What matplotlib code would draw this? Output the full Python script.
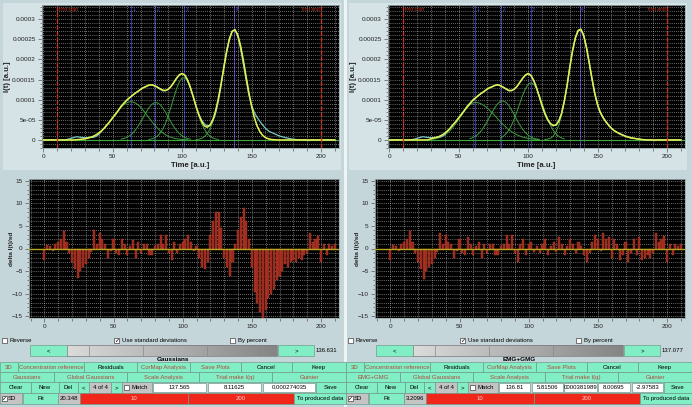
import numpy as np
import matplotlib
matplotlib.use('Agg')
import matplotlib.pyplot as plt
from matplotlib.patches import Rectangle
from matplotlib.ticker import MultipleLocator, FixedLocator

plt.rcParams['font.family'] = ['Liberation Sans', 'DejaVu Sans']

# ---------------- data (intensity in 1e-6 a.u., time step 2) ----------------
T_STEP = 2
data_I = [0.5, -0.5, 0.3, 0.8, -0.6, 0.2, -0.8, -0.3, 0.6, 2.0, 4.0, 6.0, 8.0, 7.0, 6.0, 5.5,
          6.0, 7.0, 6.5, 9.0, 14.0, 22.0, 30.0, 39.0, 46.0, 56.0, 63.0, 73.0, 84.0, 91.0, 99.0,
          104.0, 110.0, 116.0, 120.0, 125.0, 130.0, 132.0, 136.0, 137.0, 134.0, 131.0, 126.0,
          122.0, 122.0, 126.0, 133.0, 143.0, 153.0, 161.0, 165.0, 160.0, 147.0, 129.0, 107.0,
          84.0, 64.0, 49.0, 40.0, 35.0, 37.0, 47.0, 65.0, 95.0, 134.0, 182.0, 222.0, 252.0,
          270.0, 274.0, 258.0, 228.0, 190.0, 150.0, 113.0, 86.0, 68.0, 56.0, 46.0, 37.0, 29.0,
          23.0, 19.0, 16.0, 13.0, 10.0, 8.0, 6.0, 4.5, 3.0, 2.0, 1.0, 0.3, -0.5, 0.5, -1.0,
          -1.5, 0.2, -0.5, -1.0, 0.8, -0.2, 0.5, -0.3, 0.2, 0.0]

# Left panel: Gaussians
gauss_fit = [0]*12 + [0.7, 1.2, 1.9, 2.9, 4.4, 6.4, 9.2, 12.8, 17.4, 23.1, 29.9, 37.6, 46.2,
             55.3, 64.4, 73.3, 83.2, 91.2, 98.3, 104.7, 110.3, 115.4, 120.5, 125.3, 129.7,
             133.1, 136.2, 136.7, 135.0, 131.5, 127.3, 123.8, 122.9, 125.8, 132.8, 142.9,
             153.6, 162.0, 165.0, 160.6, 148.4, 129.5, 106.7, 83.2, 62.2, 45.5, 34.9, 31.5,
             36.0, 49.2, 71.2, 101.6, 138.7, 178.7, 217.8, 249.7, 269.4, 273.5, 261.3, 234.9,
             198.9, 158.3, 118.6, 83.7, 55.5, 34.7, 20.4, 11.3, 5.9, 2.9, 1.3, 0.6] + [0]*22
gauss_c1_start, gauss_c1 = 24, [0.7, 1.2, 1.9, 2.9, 4.4, 6.4, 9.2, 12.8, 17.4, 23.1, 29.9, 37.6,
                                46.2, 55.3, 64.4, 73.3, 81.2, 87.7, 92.2, 94.7, 94.7, 92.2, 87.7,
                                81.2, 73.3, 64.4, 55.3, 46.2, 37.6, 29.9, 23.1, 17.4, 12.8, 9.2,
                                6.4, 4.4, 2.9, 1.9, 1.2, 0.7, 0.4]
gauss_c2_start, gauss_c2 = 56, [2.0, 3.5, 6.1, 10.0, 15.6, 23.2, 32.8, 44.1, 56.4, 68.7, 79.7,
                                88.0, 92.4, 92.4, 88.0, 79.7, 68.7, 56.4, 44.1, 32.8, 23.2, 15.6,
                                10.0, 6.1, 3.5, 2.0]
gauss_c3_start, gauss_c3 = 76, [1.2, 2.5, 5.0, 9.2, 16.2, 26.7, 41.4, 60.2, 82.3, 105.7, 127.5,
                                144.5, 153.8, 153.8, 144.5, 127.5, 105.7, 82.3, 60.2, 41.4, 26.7,
                                16.2, 9.2, 5.0, 2.5, 1.2]
gauss_c4_start, gauss_c4 = 110, [0.9, 2.0, 4.1, 8.2, 15.3, 26.8, 44.2, 68.7, 100.4, 138.1, 178.7,
                                 217.8, 249.7, 269.4, 273.5, 261.3, 234.9, 198.9, 158.3, 118.6,
                                 83.7, 55.5, 34.7, 20.4, 11.3, 5.9, 2.9, 1.3, 0.6]
gauss_resid = [-2.5, 0.8, 0.5, -0.5, 1.0, 1.5, 2.0, 3.8, 1.5, -1.0, -3.0, -4.5, -6.5, -5.0, -4.0,
               -3.5, -2.0, -0.8, 4.0, 1.0, 3.5, 2.0, 1.0, -2.0, -0.5, 2.0, -1.0, -1.5, 2.0, 1.0,
               -1.5, 0.5, 1.8, -2.0, 1.5, -1.0, 1.0, 1.0, -1.5, -1.5, 0.5, 1.0, 3.0, 1.0, 3.0,
               -1.0, -2.5, 1.5, -1.0, 1.0, 1.5, 2.0, 3.0, 1.5, -0.5, 0.5, -2.0, -4.0, -4.5, -3.0,
               3.0, 6.0, 8.0, 8.0, 4.5, -2.0, -4.0, -6.0, -3.0, 1.0, 4.0, 7.0, 9.0, 6.0, 2.0,
               -4.0, -9.5, -12.0, -14.0, -15.5, -13.5, -11.0, -10.0, -9.0, -7.0, -6.0, -5.0,
               -3.5, -4.0, -3.0, -2.5, -3.0, -2.0, -2.5, -1.5, -1.0, 3.5, 1.5, 2.0, 2.8, -3.0,
               1.0, -1.5, 1.0, 0.5, 1.0]
gauss_peaks = [63, 80.5, 101.5, 137.5]

# Right panel: EMG+GMG
emg_fit = [0]*15 + [3, 4.5, 6.5, 9, 12.5, 17, 23, 30, 38, 46, 55, 64, 73, 82, 90, 98, 104, 110,
           115, 120, 125, 129, 132, 135, 137, 135, 131, 127, 123, 123, 126, 133, 143, 153, 161,
           165, 160, 148, 130, 108, 86, 66, 51, 41, 36, 37, 46, 65, 96, 135, 180, 222, 254, 272,
           275, 260, 230, 192, 152, 116, 88, 68, 55, 45, 36, 29, 23, 19, 15, 12, 9, 7, 5, 4, 3,
           2, 1, 0.5] + [0]*13
emg_c1_start, emg_c1 = 30, [1.4, 2.3, 3.6, 5.7, 8.6, 12.6, 17.8, 24.4, 32.3, 41.4, 51.3, 61.5,
                            71.4, 80.1, 87.0, 91.5, 93.0, 92.2, 89.8, 85.8, 80.7, 74.5, 67.5,
                            60.2, 52.7, 45.2, 38.2, 31.7, 25.8, 20.7, 16.3, 12.6, 9.6, 7.1, 5.2,
                            3.8, 2.7, 1.8, 1.3, 0.8]
emg_c2_start, emg_c2 = 58, [3.2, 5.6, 9.3, 14.6, 22.0, 31.5, 42.9, 55.6, 68.6, 80.5, 89.9, 95.7,
                            96.9, 93.3, 85.6, 74.7, 62.1, 49.1, 37.0, 26.5, 18.1, 11.7, 7.2, 4.3,
                            2.4, 1.3]
emg_c3_start, emg_c3 = 80, [5.0, 8.9, 15.1, 24.1, 36.6, 52.4, 71.1, 91.2, 110.7, 127.1, 138.1,
                            142.0, 138.1, 127.1, 110.7, 91.2, 71.1, 52.4, 36.6, 24.1, 15.1, 8.9,
                            5.0, 2.6]
emg_c4_start, emg_c4 = 112, [1, 2, 4, 9, 20, 36, 60, 93, 133, 179, 221, 254, 272, 275, 260, 230,
                             192, 152, 116, 88, 68, 55, 45, 36, 29, 23, 19, 15, 12, 9, 7, 5, 4,
                             3, 2, 1, 0.5]
emg_resid = [-2.5, 0.8, 0.5, -0.5, 1.0, 1.5, 2.0, 3.8, 1.5, -1.0, -3.0, -4.5, -6.8, -5.0, -4.0,
             -3.5, -2.0, -0.8, 3.5, 1.0, 3.0, 1.5, 1.0, -2.0, -0.5, 2.0, -1.0, -1.5, 2.5, 1.0,
             -1.5, 0.5, 1.5, -2.0, 1.0, -1.0, 1.0, 1.0, -1.5, -1.5, 0.5, 1.0, 3.0, 1.0, 3.0, -1.0,
             -3.0, 1.0, 2.0, -1.5, 1.0, 1.5, -0.8, 0.5, -1.0, 1.0, 2.0, -1.5, 0.5, 1.5, -0.8,
             2.5, 1.0, -1.5, 0.5, 2.0, 1.0, -1.0, 1.5, 0.5, -1.5, -3.0, -1.0, 1.5, 3.0, 2.0,
             -0.5, 3.5, 2.0, 2.5, -2.0, 2.0, 1.0, -2.5, -1.5, 1.5, -3.0, -1.0, 2.0, -1.5, 2.5,
             -2.5, -2.0, -1.5, -2.0, -1.0, 3.5, 1.5, 2.0, 2.8, -3.0, 1.0, -1.5, 1.0, 0.5, 1.0]
emg_peaks = [62, 80.5, 102, 137]

range_lines = [10, 200]
x_ticks = [0, 50, 100, 150, 200]
y_ticks_top = [0, 5e-5, 1e-4, 1.5e-4, 2e-4, 2.5e-4, 3e-4]
y_tick_labels_top = ['0', '5e-05', '0.0001', '0.00015', '0.0002', '0.00025', '0.0003']
y_ticks_res = [-15, -10, -5, 0, 5, 10, 15]

# ---------------- figure ----------------
W, H = 692, 407
BG = '#c5d6da'
MINT = '#82eec6'
GRAY = '#c4c4c4'
RED = '#f0261a'
DIMRED = '#b04a3a'

fig = plt.figure(figsize=(W / 100, H / 100), dpi=100)
fig.patch.set_facecolor(BG)

gui = fig.add_axes([0, 0, 1, 1], zorder=-5)
gui.set_xlim(0, W)
gui.set_ylim(H, 0)
gui.axis('off')
gui.add_patch(Rectangle((344, 0), 3, H, facecolor='#eef3f4', edgecolor='none'))


def ax_px(x0, y0, x1, y1):
    return fig.add_axes([x0 / W, 1 - y1 / H, (x1 - x0) / W, (y1 - y0) / H], zorder=2)


def style_axes(ax):
    ax.set_facecolor('black')
    for s in ax.spines.values():
        s.set_color('#9aa')
        s.set_linewidth(0.6)
    ax.tick_params(which='both', direction='out', colors='#555', labelcolor='#222',
                   labelsize=4.6, width=0.5)
    ax.tick_params(which='major', length=3, pad=1.5)
    ax.tick_params(which='minor', length=1.8)
    ax.grid(which='both', color='#d0d0d0', ls=(0, (1, 2)), lw=0.5)


def button(x0, y0, x1, y1, label='', fc=MINT, tc='black', fs=4.3, bold=False, ha='center'):
    gui.add_patch(Rectangle((x0, y0), x1 - x0, y1 - y0, facecolor=fc,
                            edgecolor='#6f9c8c', lw=0.5))
    if label:
        tx = (x0 + x1) / 2 if ha == 'center' else x0 + 2
        gui.text(tx, (y0 + y1) / 2 + 0.3, label, ha=ha, va='center', fontsize=fs, color=tc,
                 fontweight='bold' if bold else 'normal')


def checkbox(x, y, checked):
    gui.add_patch(Rectangle((x, y - 2.5), 5, 5, facecolor='white', edgecolor='#444', lw=0.5))
    if checked:
        gui.text(x + 2.6, y + 0.2, '\u2713', ha='center', va='center', fontsize=4.5, color='black',
                 family=['DejaVu Sans'])


def series(start, vals):
    return start + np.arange(len(vals)) * T_STEP, np.array(vals) * 1e-6


def panel(ox, fit, comps, resid, peaks, title, slider_val, row3_fields, chi):
    # lighter frame behind the top plot
    gui.add_patch(Rectangle((ox + 3, 3), 338, 167, facecolor='#d5e3e6', edgecolor='none'))

    # --- top plot ---
    ax = ax_px(ox + 42, 5, ox + 339, 148)
    style_axes(ax)
    t = np.arange(len(data_I)) * T_STEP
    ax.axhline(0, color='#3fa83f', lw=0.8)
    for start, vals in comps:
        tt, vv = series(start, vals)
        ax.plot(tt, vv, color='#3c9e3c', lw=0.7)
    for i, p in enumerate(peaks):
        col = '#5a3aa8' if i == 3 else '#3038a0'
        ax.axvline(p, color=col, lw=0.8, zorder=1.5)
        ax.text(p + 1, 3.3e-4, str(i + 1), color='#4a5ad0', fontsize=3.5, va='top')
    ax.plot(t, np.array(data_I) * 1e-6, color='#78c8c4', lw=0.9)
    ax.plot(t, np.array(fit) * 1e-6, color='#e6f04a', lw=1.1)
    for k, r in enumerate(range_lines):
        ax.axvline(r, color='#c83222', lw=1.0, ls=(0, (3, 1.5)))
    ax.text(range_lines[0] + 1, 3.3e-4, 'first start', color='#c83222', fontsize=3.5, va='top')
    ax.text(range_lines[1] - 1, 3.3e-4, 'first end', color='#c83222', fontsize=3.5, va='top',
            ha='right')
    ax.set_xlim(-1, 213)
    ax.set_ylim(-2.0e-5, 3.35e-4)
    ax.xaxis.set_major_locator(FixedLocator(x_ticks))
    ax.xaxis.set_minor_locator(MultipleLocator(10))
    ax.yaxis.set_major_locator(FixedLocator(y_ticks_top))
    ax.set_yticklabels(y_tick_labels_top)
    ax.yaxis.set_minor_locator(MultipleLocator(1e-5))
    ax.set_xlabel('Time [a.u.]', fontsize=5.6, fontweight='bold', color='#222')
    ax.xaxis.set_label_coords(0.5, -0.1)
    ax.set_ylabel('I(t) [a.u.]', fontsize=5.6, fontweight='bold', color='#222')
    ax.yaxis.set_label_coords(-0.105, 0.5)

    # --- residual plot ---
    axr = ax_px(ox + 29, 179, ox + 339, 318)
    style_axes(axr)
    tr = np.arange(len(resid)) * T_STEP
    axr.bar(tr, resid, width=1.5, color='#96281c', edgecolor='#c2422e', lw=0.3, zorder=3)
    axr.axhline(0, color='#b4a81e', lw=1.0, zorder=4)
    axr.set_xlim(-11.1, 213)
    axr.set_ylim(-15.35, 15.35)
    axr.xaxis.set_major_locator(FixedLocator(x_ticks))
    axr.xaxis.set_minor_locator(MultipleLocator(10))
    axr.yaxis.set_major_locator(FixedLocator(y_ticks_res))
    axr.yaxis.set_minor_locator(MultipleLocator(1))
    axr.set_ylabel('delta I(t)/sd', fontsize=4.6, fontweight='bold', color='#222')
    axr.yaxis.set_label_coords(-0.05, 0.5)

    # --- widgets ---
    cy = 340.5
    checkbox(ox + 2, cy, False)
    gui.text(ox + 9, cy, 'Reverse', fontsize=4.3, va='center')
    checkbox(ox + 114, cy, True)
    gui.text(ox + 122, cy, 'Use standard deviations', fontsize=4.3, va='center')
    checkbox(ox + 230, cy, False)
    gui.text(ox + 238, cy, 'By percent', fontsize=4.3, va='center')

    button(ox + 30, 345, ox + 67, 356, '<')
    grad = np.linspace(0.86, 0.52, 256)[None, :]
    gui.imshow(np.dstack([grad, grad, grad]), extent=(ox + 67, ox + 277, 356, 345),
               aspect='auto', zorder=1)
    gui.add_patch(Rectangle((ox + 67, 345), 210, 11, facecolor='none', edgecolor='#777',
                            lw=0.5, zorder=2))
    for sx in (89, 143, 207, 259):
        gui.plot([ox + sx, ox + sx], [345.5, 355.5], color='#888', lw=0.5, zorder=2)
    button(ox + 278, 345, ox + 314, 356, '>')
    gui.text(ox + 316, 350.8, slider_val, fontsize=4.3, va='center')
    gui.text(ox + 173, 359.3, title, fontsize=4.6, va='center', ha='center', fontweight='bold')

    row1 = [(0, 18, '3D', DIMRED), (18, 84, 'Concentration reference', DIMRED),
            (84, 137, 'Residuals', 'black'), (137, 190, 'CorMap Analysis', DIMRED),
            (190, 241, 'Save Plots', DIMRED), (241, 292, 'Cancel', 'black'),
            (292, 346, 'Keep', 'black')]
    for a, b, lab, c in row1:
        button(ox + a, 362, min(ox + b, W), 372, lab, tc=c)
    row2 = [(0, 54, title), (54, 127, 'Global Gaussians'), (127, 199, 'Scale Analysis'),
            (199, 272, 'Trial make I(q)'), (272, 346, 'Guinier')]
    for a, b, lab in row2:
        button(ox + a, 372, min(ox + b, W), 382, lab, tc=DIMRED)
    button(ox + 0, 382, ox + 31, 393, 'Clear')
    button(ox + 31, 382, ox + 59, 393, 'New')
    button(ox + 59, 382, ox + 78, 393, 'Del')
    button(ox + 78, 382, ox + 89, 393, '<')
    button(ox + 89, 382, ox + 111, 393, '4 of 4', fc=GRAY)
    button(ox + 111, 382, ox + 122, 393, '>')
    button(ox + 122, 382, ox + 152, 393, '', fc=GRAY)
    checkbox(ox + 124, 387.5, False)
    gui.text(ox + 131, 387.5, 'Match', fontsize=4.3, va='center')
    for a, b, lab in row3_fields:
        button(ox + a, 383, ox + b, 392, lab, fc='white')
    button(ox + row3_fields[-1][1] + 1, 382, min(ox + 346, W), 393, 'Save')

    button(ox + 0, 393, ox + 22, 404, '', fc=GRAY)
    checkbox(ox + 1.5, 398.5, True)
    gui.text(ox + 8, 398.5, 'SD', fontsize=4.3, va='center')
    button(ox + 23, 393, ox + 58, 404, 'Fit')
    button(ox + 58, 393, ox + 80, 404, chi, fc=GRAY)
    button(ox + 80, 393, ox + 188, 404, '10', fc=RED, tc='#ffd0c8')
    button(ox + 188, 393, ox + 294, 404, '200', fc=RED, tc='#ffd0c8')
    button(ox + 294, 393, min(ox + 346, W), 404, 'To produced data')


panel(0, gauss_fit,
      [(gauss_c1_start, gauss_c1), (gauss_c2_start, gauss_c2),
       (gauss_c3_start, gauss_c3), (gauss_c4_start, gauss_c4)],
      gauss_resid, gauss_peaks, 'Gaussians', '136.631',
      [(153, 206, '137.565'), (208, 261, '8.11625'), (263, 315, '0.000274035')], '20.348')

panel(346, emg_fit,
      [(emg_c1_start, emg_c1), (emg_c2_start, emg_c2),
       (emg_c3_start, emg_c3), (emg_c4_start, emg_c4)],
      emg_resid, emg_peaks, 'EMG+GMG', '137.077',
      [(153, 184, '136.81'), (186, 217, '5.81506'), (218, 251, '0000381989'),
       (252, 284, '8.00695'), (286, 317, '-2.97583')], '3.2096')

fig.savefig('out.png', dpi=100, facecolor=fig.get_facecolor())
